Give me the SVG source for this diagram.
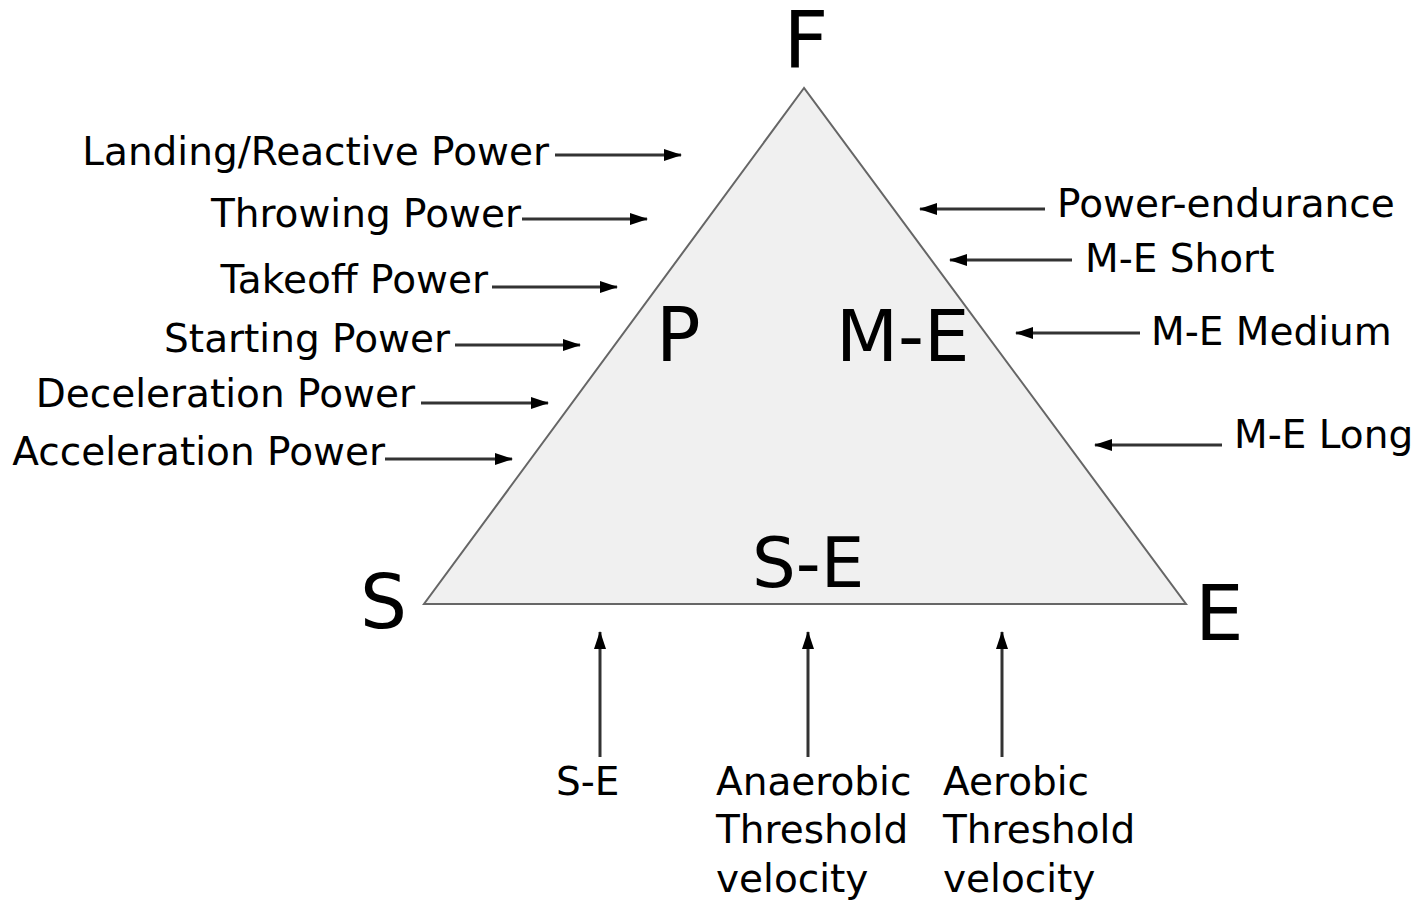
<svg xmlns="http://www.w3.org/2000/svg" width="1419" height="900" viewBox="0 0 1419 900">
<style>
.lbl{font-family:"DejaVu Sans","Liberation Sans",sans-serif;font-size:39px;fill:#000}
.big{font-family:"DejaVu Sans","Liberation Sans",sans-serif;fill:#000}
.arr{stroke:#333;stroke-width:3;fill:none;marker-end:url(#ah)}
</style>
<defs>
<marker id="ah" markerUnits="userSpaceOnUse" markerWidth="18" markerHeight="12" refX="17" refY="6" orient="auto">
<path d="M0,0 L18,6 L0,12 Z" fill="#000"/>
</marker>
</defs>
<rect x="0" y="0" width="1419" height="900" fill="#fff"/>
<g id="triangle">
<polygon points="804,88 424,604 1186,604" fill="#f0f0f0" stroke="#666" stroke-width="2"/>
</g>
<g id="vertex-F"><text class="big" x="806" y="67" font-size="78" text-anchor="middle">F</text></g>
<g id="vertex-S"><text class="big" x="360" y="628" font-size="74">S</text></g>
<g id="vertex-E"><text class="big" x="1195" y="640" font-size="77">E</text></g>
<g id="region-P"><text class="big" x="656" y="361" font-size="74">P</text></g>
<g id="region-ME"><text class="big" x="836" y="361" font-size="72">M-E</text></g>
<g id="region-SE"><text class="big" x="752" y="587" font-size="69">S-E</text></g>
<g id="left-labels">
<text class="lbl" x="549" y="165" text-anchor="end">Landing/Reactive Power</text>
<text class="lbl" x="521" y="227" text-anchor="end">Throwing Power</text>
<text class="lbl" x="488" y="293" text-anchor="end">Takeoff Power</text>
<text class="lbl" x="450" y="352" text-anchor="end">Starting Power</text>
<text class="lbl" x="415" y="407" text-anchor="end">Deceleration Power</text>
<text class="lbl" x="385" y="465" text-anchor="end">Acceleration Power</text>
</g>
<g id="right-labels">
<text class="lbl" x="1057" y="217">Power-endurance</text>
<text class="lbl" x="1085" y="272">M-E Short</text>
<text class="lbl" x="1151" y="345">M-E Medium</text>
<text class="lbl" x="1234" y="448">M-E Long</text>
</g>
<g id="bottom-labels">
<text class="lbl" x="556" y="795">S-E</text>
<text class="lbl" x="716" y="795">Anaerobic</text>
<text class="lbl" x="716" y="843">Threshold</text>
<text class="lbl" x="716" y="892">velocity</text>
<text class="lbl" x="943" y="795">Aerobic</text>
<text class="lbl" x="943" y="843">Threshold</text>
<text class="lbl" x="943" y="892">velocity</text>
</g>
<g id="connectors">
<line class="arr" x1="555" y1="155" x2="681" y2="155"/>
<line class="arr" x1="522" y1="219" x2="647" y2="219"/>
<line class="arr" x1="492" y1="287" x2="617" y2="287"/>
<line class="arr" x1="455" y1="345" x2="580" y2="345"/>
<line class="arr" x1="421" y1="403" x2="548" y2="403"/>
<line class="arr" x1="385" y1="459" x2="512" y2="459"/>
<line class="arr" x1="1045" y1="209" x2="920" y2="209"/>
<line class="arr" x1="1072" y1="260" x2="950" y2="260"/>
<line class="arr" x1="1140" y1="333" x2="1016" y2="333"/>
<line class="arr" x1="1222" y1="445" x2="1095" y2="445"/>
<line class="arr" x1="600" y1="757" x2="600" y2="632"/>
<line class="arr" x1="808" y1="757" x2="808" y2="632"/>
<line class="arr" x1="1002" y1="757" x2="1002" y2="632"/>
</g>
</svg>
